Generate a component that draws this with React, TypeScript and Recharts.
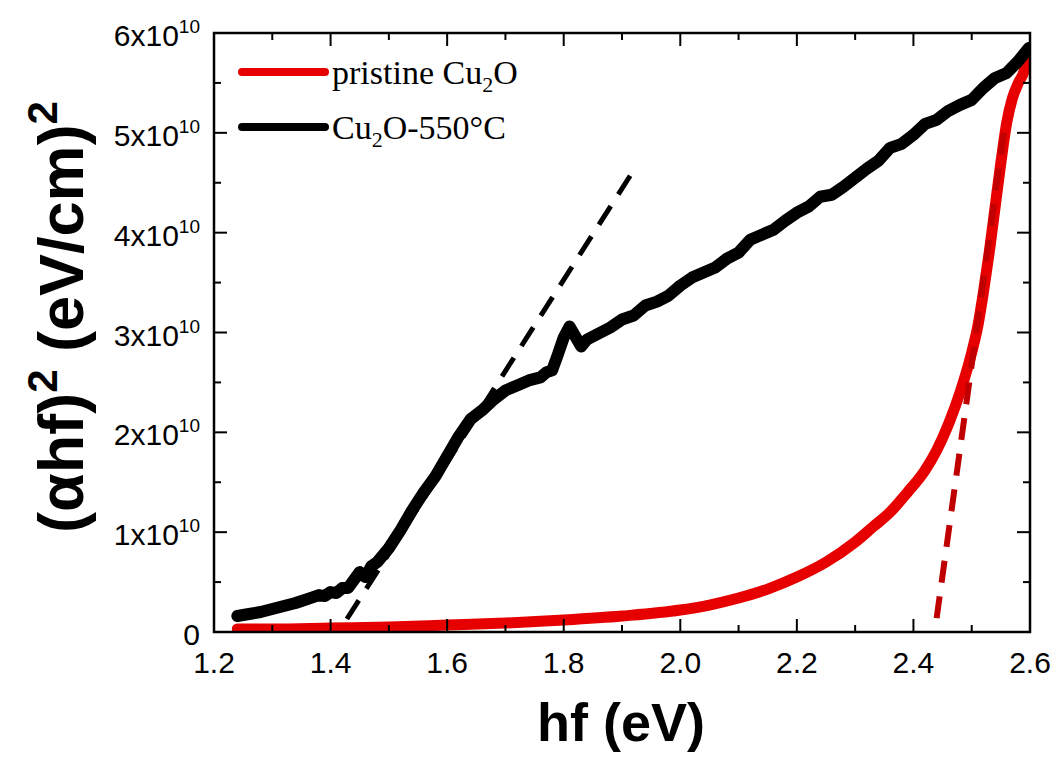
import { LineChart, Line, XAxis, YAxis } from 'recharts';

const SANS = '"Liberation Sans", Arial, sans-serif';
const SERIF = '"Liberation Serif", "Times New Roman", serif';
const E10 = 1e10;

// tick values
const xMajor = [1.2, 1.4, 1.6, 1.8, 2.0, 2.2, 2.4, 2.6];
const xMinor = [1.3, 1.5, 1.7, 1.9, 2.1, 2.3, 2.5];
const yMajor = [0, 1, 2, 3, 4, 5, 6];
const yMinor = [0.5, 1.5, 2.5, 3.5, 4.5, 5.5];

// Cu2O-550°C, (αhf)² in units of 1e10
const annealedHf = [
  1.24, 1.26, 1.28, 1.3, 1.32, 1.34, 1.36, 1.38, 1.39, 1.4, 1.41, 1.42, 1.43, 1.44, 1.45, 1.46,
  1.47, 1.48, 1.5, 1.52, 1.54, 1.56, 1.58, 1.6, 1.62, 1.64, 1.66, 1.68, 1.7, 1.72, 1.74, 1.76,
  1.77, 1.78, 1.79, 1.8, 1.81, 1.82, 1.83, 1.84, 1.86, 1.88, 1.9, 1.92, 1.94, 1.96, 1.98, 2.0,
  2.02, 2.04, 2.06, 2.08, 2.1, 2.12, 2.14, 2.16, 2.18, 2.2, 2.22, 2.24, 2.26, 2.28, 2.3, 2.32,
  2.34, 2.36, 2.38, 2.4, 2.42, 2.44, 2.46, 2.48, 2.5, 2.52, 2.54, 2.56, 2.58, 2.598,
];
const annealedVal = [
  0.16, 0.18, 0.2, 0.23, 0.26, 0.29, 0.33, 0.37, 0.36, 0.4, 0.39, 0.44, 0.44, 0.52, 0.6, 0.55,
  0.66, 0.7, 0.84, 1.02, 1.22, 1.4, 1.56, 1.76, 1.96, 2.13, 2.22, 2.33, 2.42, 2.47, 2.52, 2.55,
  2.6, 2.62, 2.78, 2.95, 3.06, 2.96, 2.86, 2.93, 2.99, 3.05, 3.13, 3.17, 3.27, 3.31, 3.37, 3.47,
  3.55, 3.6, 3.65, 3.74, 3.8, 3.93, 3.98, 4.03, 4.12, 4.2, 4.26, 4.36, 4.38, 4.46, 4.55, 4.64,
  4.72, 4.85, 4.89, 4.98, 5.09, 5.13, 5.22, 5.28, 5.33, 5.45, 5.55, 5.6, 5.72, 5.85,
];

// pristine Cu2O
const pristineHf = [
  1.24, 1.3, 1.4, 1.5, 1.6, 1.7, 1.8, 1.9, 2.0, 2.05, 2.1, 2.15, 2.2, 2.25, 2.3, 2.33, 2.36,
  2.39, 2.42, 2.44, 2.46, 2.48, 2.5, 2.51, 2.52, 2.53, 2.54, 2.55, 2.56, 2.57, 2.58, 2.59, 2.597,
];
const pristineVal = [
  0.03, 0.03, 0.04, 0.05, 0.07, 0.09, 0.12, 0.16, 0.22, 0.27, 0.34, 0.43, 0.55, 0.7, 0.9, 1.05,
  1.2, 1.4, 1.62, 1.82, 2.08, 2.4, 2.8, 3.05, 3.4, 3.8, 4.25, 4.7, 5.1, 5.35, 5.5, 5.62, 5.8,
];

// tangent (dashed) lines, top end first
const tangentAnnealedHf = [1.914, 1.416];
const tangentAnnealedVal = [4.57, 0.02];
const tangentPristineHf = [2.555, 2.437];
const tangentPristineVal = [5.0, 0.02];

const toRows = (xs: number[], ys: number[]) => xs.map((hf, i) => ({ hf, v: ys[i] * E10 }));

const annealed = toRows(annealedHf, annealedVal);
const pristine = toRows(pristineHf, pristineVal);
const tangentA = toRows(tangentAnnealedHf, tangentAnnealedVal);
const tangentP = toRows(tangentPristineHf, tangentPristineVal);

const xTicks = [...xMajor, ...xMinor].sort((a, b) => a - b);
const yTicks = [...yMajor, ...yMinor].sort((a, b) => a - b).map((v) => v * E10);

const isMajorX = (v: number) => xMajor.some((m) => Math.abs(m - v) < 1e-6);
const isMajorY = (v: number) => yMajor.some((m) => Math.abs(m * E10 - v) < 1);

// plot box (matches the chart margins / axis sizes below)
const BOX = { left: 214, top: 33, right: 1030, bottom: 632 };

function BottomTick({ x, y, payload }: any) {
  const major = isMajorX(payload.value);
  return (
    <g>
      <line x1={x} x2={x} y1={y} y2={y - (major ? 13 : 7)} stroke="#000" strokeWidth={2} />
      {major && (
        <text x={x} y={y + 41} textAnchor="middle" fontSize={30} fontFamily={SANS} fill="#000">
          {payload.value.toFixed(1)}
        </text>
      )}
    </g>
  );
}

function TopTick({ x, y, payload }: any) {
  const major = isMajorX(payload.value);
  return <line x1={x} x2={x} y1={y} y2={y + (major ? 13 : 7)} stroke="#000" strokeWidth={2} />;
}

function LeftTick({ x, y, payload }: any) {
  const major = isMajorY(payload.value);
  const n = Math.round(payload.value / E10);
  return (
    <g>
      <line x1={x} x2={x + (major ? 13 : 7)} y1={y} y2={y} stroke="#000" strokeWidth={2} />
      {major && (
        <text x={x - 14} y={y + 13} textAnchor="end" fontSize={30} fontFamily={SANS} fill="#000">
          {n === 0 ? (
            '0'
          ) : (
            <>
              {`${n}x10`}
              <tspan fontSize={19} dy={-13}>
                10
              </tspan>
            </>
          )}
        </text>
      )}
    </g>
  );
}

function RightTick({ x, y, payload }: any) {
  const major = isMajorY(payload.value);
  return <line x1={x} x2={x - (major ? 13 : 7)} y1={y} y2={y} stroke="#000" strokeWidth={2} />;
}

function Overlay() {
  return (
    <svg width={1059} height={760} style={{ position: 'absolute', left: 0, top: 0, pointerEvents: 'none' }}>
      {/* frame */}
      <rect
        x={BOX.left}
        y={BOX.top}
        width={BOX.right - BOX.left}
        height={BOX.bottom - BOX.top}
        fill="none"
        stroke="#000"
        strokeWidth={2.5}
      />
      {/* legend */}
      <line x1={242} x2={325} y1={72} y2={72} stroke="#e60000" strokeWidth={8} strokeLinecap="round" />
      <text x={332} y={84} fontSize={34} fontFamily={SERIF} fill="#000">
        pristine Cu<tspan fontSize={22} dy={8}>2</tspan>
        <tspan dy={-8}>O</tspan>
      </text>
      <line x1={242} x2={325} y1={127} y2={127} stroke="#000" strokeWidth={8} strokeLinecap="round" />
      <text x={332} y={139} fontSize={34} fontFamily={SERIF} fill="#000">
        Cu<tspan fontSize={22} dy={8}>2</tspan>
        <tspan dy={-8}>O-550°C</tspan>
      </text>
      {/* axis titles */}
      <text x={621} y={741} textAnchor="middle" fontSize={54} fontWeight="bold" fontFamily={SANS} fill="#000">
        hf (eV)
      </text>
      <text
        transform="translate(83,317) rotate(-90)"
        textAnchor="middle"
        fontSize={63}
        fontWeight="bold"
        fontFamily={SANS}
        fill="#000"
      >
        (αhf)<tspan fontSize={42} dy={-26}>2</tspan>
        <tspan dy={26}> (eV/cm)</tspan>
        <tspan fontSize={42} dy={-26}>2</tspan>
      </text>
    </svg>
  );
}

export default function App() {
  const axisLine = { stroke: '#000', strokeWidth: 2 };
  return (
    <div style={{ position: 'absolute', left: 0, top: 0, width: 1059, height: 760, background: '#fff' }}>
      <LineChart width={1059} height={760} margin={{ top: 32, right: 28, bottom: 0, left: 0 }}>
        <XAxis
          xAxisId="bottom"
          dataKey="hf"
          type="number"
          domain={[1.2, 2.6]}
          ticks={xTicks}
          interval={0}
          height={128}
          tickSize={0}
          tickMargin={0}
          tickLine={false}
          axisLine={axisLine}
          tick={BottomTick}
          allowDataOverflow
        />
        <XAxis
          xAxisId="top"
          dataKey="hf"
          orientation="top"
          type="number"
          domain={[1.2, 2.6]}
          ticks={xTicks}
          interval={0}
          height={1}
          tickSize={0}
          tickMargin={0}
          tickLine={false}
          axisLine={axisLine}
          tick={TopTick}
          allowDataOverflow
        />
        <YAxis
          yAxisId="left"
          type="number"
          domain={[0, 6 * E10]}
          ticks={yTicks}
          interval={0}
          width={214}
          tickSize={0}
          tickMargin={0}
          tickLine={false}
          axisLine={axisLine}
          tick={LeftTick}
          allowDataOverflow
        />
        <YAxis
          yAxisId="right"
          orientation="right"
          type="number"
          domain={[0, 6 * E10]}
          ticks={yTicks}
          interval={0}
          width={1}
          tickSize={0}
          tickMargin={0}
          tickLine={false}
          axisLine={axisLine}
          tick={RightTick}
          allowDataOverflow
        />
        <Line
          xAxisId="bottom"
          yAxisId="left"
          data={pristine}
          dataKey="v"
          type="monotone"
          stroke="#e60000"
          strokeWidth={11}
          dot={false}
          strokeLinecap="round"
          strokeLinejoin="round"
          isAnimationActive={false}
        />
        <Line
          xAxisId="top"
          yAxisId="right"
          data={annealed}
          dataKey="v"
          type="linear"
          stroke="#000"
          strokeWidth={12}
          dot={false}
          strokeLinecap="round"
          strokeLinejoin="round"
          isAnimationActive={false}
        />
        <Line
          xAxisId="bottom"
          yAxisId="left"
          data={tangentA}
          dataKey="v"
          type="linear"
          stroke="#000"
          strokeWidth={5}
          strokeDasharray="22 14"
          dot={false}
          isAnimationActive={false}
        />
        <Line
          xAxisId="bottom"
          yAxisId="left"
          data={tangentP}
          dataKey="v"
          type="linear"
          stroke="#c00000"
          strokeWidth={6}
          strokeDasharray="22 14"
          dot={false}
          isAnimationActive={false}
        />
      </LineChart>
      <Overlay />
    </div>
  );
}
